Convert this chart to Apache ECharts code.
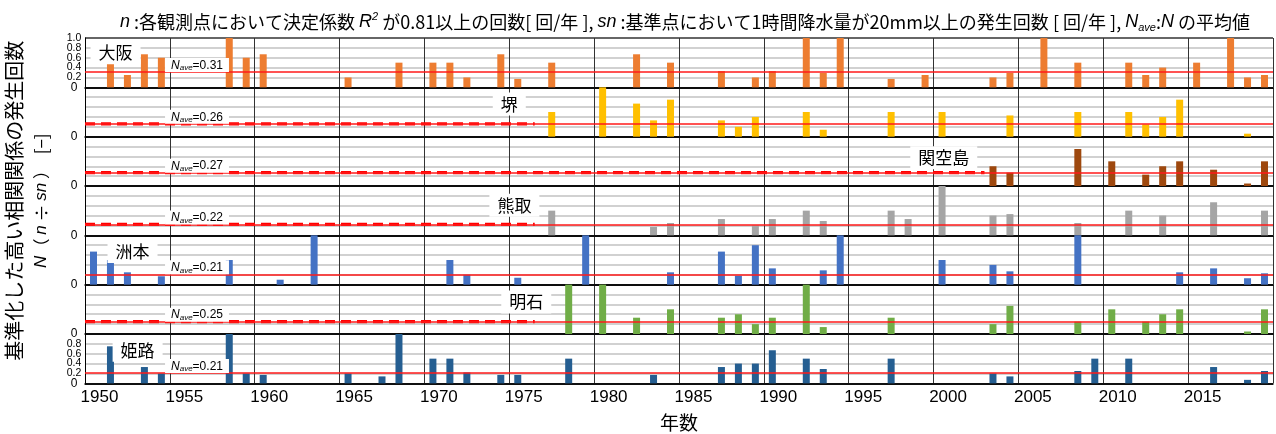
<!DOCTYPE html>
<html>
<head>
<meta charset="utf-8">
<script src="https://cdn.jsdelivr.net/npm/echarts@6/dist/echarts.min.js"></script>
<style>
  html, body { margin: 0; padding: 0; background: #fff; }
  #chart { width: 1276px; height: 434px; }
</style>
</head>
<body>
<div id="chart"></div>
<script>
// Years on the horizontal axis (one category per year)
const years = [];
for (let y = 1950; y <= 2019; y++) years.push(String(y));

// Stations, top to bottom
const stationNames = ['大阪', '堺', '関空島', '熊取', '洲本', '明石', '姫路'];
// Average N for each station
const naveValues = [0.31, 0.26, 0.27, 0.22, 0.21, 0.25, 0.21];
// Period before observations start (drawn dashed), as a year; null = observed from 1950
const dashedUntil = [null, 1976, 2002.5, 1976, null, 1976, null];

// Normalized count N = n / sn per year, [year, N]
const osaka = [[1951,0.5],[1952,0.25],[1953,0.67],[1954,0.6],[1958,1.0],[1959,0.6],[1960,0.67],[1965,0.2],[1968,0.5],[1970,0.5],[1971,0.5],[1972,0.2],[1974,0.67],[1975,0.17],[1977,0.5],[1982,0.67],[1984,0.5],[1987,0.33],[1989,0.2],[1990,0.33],[1992,1.0],[1993,0.29],[1994,1.0],[1997,0.17],[1999,0.25],[2003,0.2],[2004,0.29],[2006,1.0],[2008,0.5],[2011,0.5],[2012,0.25],[2013,0.4],[2015,0.5],[2017,1.0],[2018,0.2],[2019,0.25]];
const sakai = [[1977,0.5],[1980,1.0],[1982,0.67],[1983,0.33],[1984,0.75],[1987,0.33],[1988,0.2],[1989,0.4],[1992,0.5],[1993,0.14],[1997,0.5],[2000,0.5],[2004,0.43],[2008,0.5],[2011,0.5],[2012,0.25],[2013,0.4],[2014,0.75],[2018,0.06]];
const kanku = [[2003,0.4],[2004,0.27],[2008,0.75],[2010,0.5],[2012,0.23],[2013,0.4],[2014,0.5],[2016,0.33],[2018,0.05],[2019,0.5]];
const kumatori = [[1977,0.5],[1983,0.17],[1984,0.25],[1987,0.33],[1989,0.2],[1990,0.33],[1992,0.5],[1993,0.29],[1997,0.5],[1998,0.33],[2000,1.0],[2003,0.4],[2004,0.43],[2008,0.25],[2011,0.5],[2013,0.4],[2016,0.67],[2019,0.5]];
const sumoto = [[1950,0.67],[1951,0.5],[1952,0.25],[1954,0.17],[1958,0.5],[1961,0.1],[1963,1.0],[1971,0.5],[1972,0.2],[1975,0.14],[1979,1.0],[1984,0.25],[1987,0.67],[1988,0.18],[1989,0.8],[1990,0.33],[1993,0.29],[1994,1.0],[2000,0.5],[2003,0.4],[2004,0.27],[2008,1.0],[2014,0.25],[2016,0.33],[2018,0.13],[2019,0.23]];
const akashi = [[1978,1.0],[1980,1.0],[1982,0.33],[1984,0.5],[1987,0.33],[1988,0.4],[1989,0.2],[1990,0.33],[1992,1.0],[1993,0.14],[1997,0.33],[2003,0.2],[2004,0.57],[2008,0.25],[2010,0.5],[2012,0.25],[2013,0.4],[2014,0.5],[2018,0.05],[2019,0.5]];
const himeji = [[1951,0.75],[1953,0.33],[1954,0.2],[1958,1.0],[1959,0.2],[1960,0.17],[1965,0.2],[1967,0.14],[1968,1.0],[1970,0.5],[1971,0.5],[1972,0.22],[1974,0.17],[1975,0.17],[1978,0.5],[1983,0.17],[1987,0.33],[1988,0.4],[1989,0.4],[1990,0.67],[1992,0.5],[1993,0.29],[1997,0.5],[2003,0.2],[2004,0.14],[2008,0.25],[2009,0.5],[2011,0.5],[2016,0.33],[2018,0.07],[2019,0.25]];

const stationData = [osaka, sakai, kanku, kumatori, sumoto, akashi, himeji];

// ---- presentation ----
const barColors = ['#ED7D31', '#FFC000', '#9E480E', '#A5A5A5', '#4472C4', '#70AD47', '#255E91'];
// where each station tag sits, in [year, N] units of its panel
const tagAnchors = [[1951.3, 0.70], [1974.5, 0.66], [2000.1, 0.57], [1974.8, 0.61], [1952.3, 0.67], [1975.5, 0.65], [1952.6, 0.67]];
const naveTagYear = 1956.1;

const PANEL_TOP = 38, PANEL_H = 49.33, LEFT = 85, RIGHT = 3;
const LATIN = "'Liberation Sans', Arial, sans-serif";
const CJK = "'Noto Sans CJK JP', 'Noto Sans', sans-serif";

function toCategoryValues(pairs) {
  const arr = years.map(() => null);
  pairs.forEach(([y, v]) => { arr[y - 1950] = v; });
  return arr;
}

const grids = [], xAxes = [], yAxes = [], series = [];
const n = stationNames.length;

for (let k = 0; k < n; k++) {
  grids.push({ left: LEFT, right: RIGHT, top: PANEL_TOP + k * PANEL_H, height: PANEL_H, containLabel: false, outerBoundsMode: 'none' });
}

for (let k = 0; k < n; k++) {
  const last = k === n - 1;
  xAxes.push({
    type: 'category', gridIndex: k, data: years, boundaryGap: true,
    axisLine: { show: true, onZero: false, lineStyle: { color: '#000', width: 1.5 } },
    axisTick: { show: false },
    axisLabel: last ? {
      show: true, interval: 4, fontSize: 17, fontFamily: LATIN, color: '#000',
      margin: 6, padding: [0, 0, 0, 12]
    } : { show: false },
    splitLine: { show: true, interval: (i) => i % 5 === 0, lineStyle: { color: '#333', width: 1 } },
    name: last ? '年数' : '', nameLocation: 'middle', nameGap: 30,
    nameTextStyle: { fontSize: 19, fontFamily: CJK, color: '#000' }
  });
}
for (let k = 0; k < n; k++) {
  xAxes.push({ type: 'value', gridIndex: k, min: 1949.5, max: 2019.5, show: false, splitLine: { show: false } });
}

// Tick label text. The top and bottom panels carry the full 0–1.0 scale, split over two
// axes (odd steps / even steps) so neighbouring labels never collide; the rest show "0" only.
const tickRich = {
  z: { fontSize: 12, fontFamily: LATIN, color: '#000' },
  d: { fontSize: 10.5, fontFamily: LATIN, color: '#000' }
};
function tickText(k, v, part) {
  const step = Math.round(v * 5);           // 0..5
  if (step === 0) return part === 'even' ? '{z|0}' : '';
  const fullScale = k === 0 || k === n - 1;
  if (!fullScale) return '';
  if (k === n - 1 && step === 5) return '';
  const wanted = step % 2 === 0 ? 'even' : 'odd';
  return wanted === part ? '{d|' + v.toFixed(1) + '}' : '';
}

for (let k = 0; k < n; k++) {
  const ax = {
    type: 'value', gridIndex: k, min: 0, max: 1, interval: 0.2,
    axisLine: { show: true, lineStyle: { color: '#000', width: 1 } },
    axisTick: { show: false },
    axisLabel: {
      show: true, align: 'center', margin: 11,
      formatter: (v) => tickText(k, v, (k === 0 || k === n - 1) ? 'odd' : 'even'),
      showMinLabel: true, showMaxLabel: true, rich: tickRich
    },
    splitLine: { show: true, lineStyle: { color: ['#000', '#c2c2c2', '#c2c2c2', '#c2c2c2', '#c2c2c2', '#333'], width: 1.6 } }
  };
  if (k === 3) {
    ax.name = '{a|基準化した高い相関関係の発生回数}\n{b|N}{c|（ }{b|n}{c| ÷ }{b|sn}{c| ）  [−]}';
    ax.nameLocation = 'middle';
    ax.nameRotate = 90;
    ax.nameGap = 30;
    ax.nameTextStyle = {
      padding: [0, 0, 0, 20],
      rich: {
        a: { fontSize: 20, fontFamily: CJK, color: '#000', lineHeight: 27 },
        b: { fontSize: 17, fontStyle: 'italic', fontFamily: LATIN, color: '#000', lineHeight: 27 },
        c: { fontSize: 17, fontFamily: CJK, color: '#000', lineHeight: 27 }
      }
    };
  }
  yAxes.push(ax);
}
// companion label-only axes for the full-scale panels
[0, n - 1].forEach((k) => {
  yAxes.push({
    type: 'value', gridIndex: k, min: 0, max: 1, interval: 0.2, position: 'left',
    axisLine: { show: false }, axisTick: { show: false }, splitLine: { show: false },
    axisLabel: {
      show: true, align: 'center', margin: 11,
      formatter: (v) => tickText(k, v, 'even'),
      showMinLabel: true, showMaxLabel: true, rich: tickRich
    }
  });
});

for (let k = 0; k < n; k++) {
  const nave = naveValues[k];
  series.push({
    type: 'bar', name: stationNames[k], xAxisIndex: k, yAxisIndex: k,
    data: toCategoryValues(stationData[k]), barWidth: 7,
    itemStyle: { color: barColors[k] }, z: 3, silent: true
  });
  series.push({
    type: 'line', xAxisIndex: n + k, yAxisIndex: k, z: 2, silent: true,
    data: dashedUntil[k] ? [[1949.5, nave], [dashedUntil[k], nave]] : [],
    symbol: 'none',
    lineStyle: { color: '#ff0000', width: 3.2, type: [10, 6] },
    markLine: {
      silent: true, symbol: ['none', 'none'], label: { show: false },
      lineStyle: { color: '#ff1a1a', width: 1.5, type: 'solid' },
      data: [{ yAxis: nave }]
    },
    markPoint: {
      silent: true, symbol: 'circle', symbolSize: 1, itemStyle: { color: 'rgba(0,0,0,0)' },
      data: [
        {
          coord: [naveTagYear, nave],
          label: {
            show: true, position: 'inside', offset: [0, -7],
            formatter: '{n|N}{s|ave}{e|=' + nave.toFixed(2) + '}',
            backgroundColor: '#fff', padding: [1, 6, 0, 6],
            rich: {
              n: { fontSize: 12, fontStyle: 'italic', fontFamily: LATIN, color: '#000', lineHeight: 13 },
              s: { fontSize: 8, fontStyle: 'italic', fontFamily: LATIN, color: '#000', lineHeight: 13, verticalAlign: 'bottom' },
              e: { fontSize: 12, fontFamily: LATIN, color: '#000', lineHeight: 13 }
            }
          }
        },
        {
          coord: tagAnchors[k],
          label: {
            show: true, position: 'inside', formatter: stationNames[k],
            fontSize: 17, fontFamily: CJK, color: '#000',
            backgroundColor: '#fff', padding: [3, 8]
          }
        }
      ]
    }
  });
}

const chart = echarts.init(document.getElementById('chart'), null, { renderer: 'canvas' });
chart.setOption({
  animation: false,
  backgroundColor: '#fff',
  title: {
    left: 680, top: 6, textAlign: 'center',
    text: '{i|n}{t| :各観測点において決定係数 }{i|R}{sup|2}{t| が0.81以上の回数[ 回/年 ], }{i|sn}{t| :基準点において1時間降水量が20mm以上の発生回数 [ 回/年 ], }{i|N}{sub|ave}{t|:}{i|N}{t| の平均値}',
    textStyle: {
      fontWeight: 'normal',
      rich: {
        t: { fontSize: 18, fontWeight: 'normal', fontFamily: CJK, color: '#000', lineHeight: 22 },
        i: { fontSize: 18, fontWeight: 'normal', fontStyle: 'italic', fontFamily: LATIN, color: '#000', lineHeight: 22 },
        sup: { fontSize: 11, fontWeight: 'normal', fontStyle: 'italic', fontFamily: LATIN, color: '#000', lineHeight: 22, verticalAlign: 'top' },
        sub: { fontSize: 11, fontWeight: 'normal', fontStyle: 'italic', fontFamily: LATIN, color: '#000', lineHeight: 22, verticalAlign: 'bottom' }
      }
    }
  },
  grid: grids,
  xAxis: xAxes,
  yAxis: yAxes,
  series: series
});
</script>
</body>
</html>
